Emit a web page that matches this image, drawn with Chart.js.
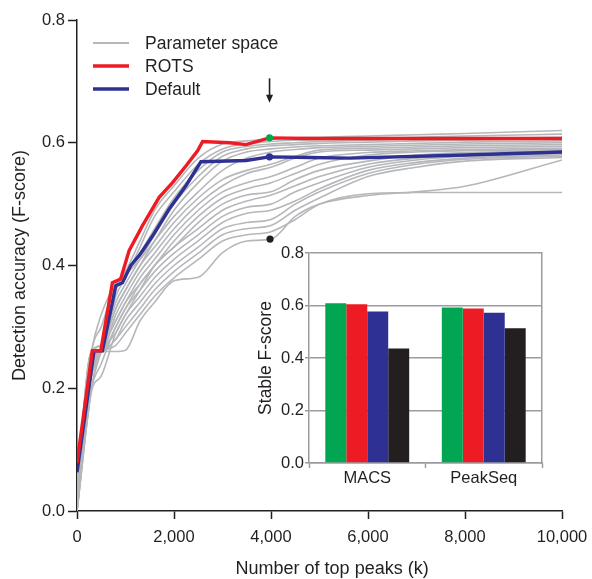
<!DOCTYPE html>
<html>
<head>
<meta charset="utf-8">
<script src="https://cdn.jsdelivr.net/npm/chart.js@4.4.1/dist/chart.umd.min.js"></script>
<style>
  html, body { margin: 0; padding: 0; background: #fff; }
  #wrap { position: relative; width: 592px; height: 579px; }
  #main { position: absolute; left: 0; top: 0; }
  #inset { position: absolute; left: 250px; top: 240px; }
</style>
</head>
<body>
<div id="wrap">
  <canvas id="main" width="592" height="579"></canvas>
  <canvas id="inset" width="300" height="250"></canvas>
</div>
<script>
// ---- data ----
const gridX = [0, 300, 500, 800, 1000, 1300, 1600, 2000, 2500, 3000, 3500, 4000, 4500, 5000, 6000, 7000, 8000, 10000];

// each row is one parameter combination, sampled at gridX
const parameterSpace = [
  [0.05, 0.26, 0.27, 0.36, 0.39, 0.44, 0.49, 0.53, 0.575, 0.598, 0.603, 0.606, 0.608, 0.609, 0.611, 0.613, 0.615, 0.620],
  [0.04, 0.25, 0.26, 0.35, 0.38, 0.43, 0.48, 0.52, 0.565, 0.590, 0.598, 0.602, 0.604, 0.605, 0.607, 0.609, 0.611, 0.614],
  [0.03, 0.26, 0.30, 0.37, 0.39, 0.42, 0.46, 0.51, 0.555, 0.585, 0.594, 0.598, 0.600, 0.602, 0.604, 0.606, 0.607, 0.609],
  [0.02, 0.22, 0.26, 0.34, 0.37, 0.41, 0.45, 0.50, 0.545, 0.578, 0.590, 0.595, 0.597, 0.599, 0.601, 0.603, 0.604, 0.606],
  [0.00, 0.20, 0.26, 0.33, 0.36, 0.40, 0.44, 0.49, 0.535, 0.570, 0.585, 0.590, 0.593, 0.595, 0.597, 0.599, 0.601, 0.603],
  [0.06, 0.26, 0.32, 0.37, 0.385, 0.41, 0.44, 0.48, 0.52, 0.555, 0.575, 0.585, 0.589, 0.592, 0.594, 0.596, 0.598, 0.600],
  [0.01, 0.24, 0.26, 0.33, 0.36, 0.40, 0.43, 0.47, 0.51, 0.54, 0.555, 0.565, 0.578, 0.588, 0.591, 0.593, 0.595, 0.597],
  [0.04, 0.26, 0.26, 0.32, 0.35, 0.39, 0.42, 0.46, 0.50, 0.53, 0.55, 0.56, 0.575, 0.585, 0.588, 0.590, 0.592, 0.594],
  [0.03, 0.23, 0.26, 0.31, 0.34, 0.38, 0.41, 0.45, 0.49, 0.52, 0.535, 0.545, 0.56, 0.575, 0.584, 0.587, 0.589, 0.591],
  [0.02, 0.20, 0.24, 0.30, 0.33, 0.37, 0.40, 0.44, 0.48, 0.51, 0.525, 0.535, 0.55, 0.565, 0.58, 0.585, 0.587, 0.589],
  [0.00, 0.195, 0.22, 0.29, 0.32, 0.36, 0.40, 0.43, 0.47, 0.50, 0.515, 0.52, 0.54, 0.555, 0.57, 0.58, 0.584, 0.587],
  [0.05, 0.26, 0.27, 0.31, 0.34, 0.37, 0.40, 0.43, 0.46, 0.49, 0.505, 0.515, 0.53, 0.545, 0.565, 0.575, 0.58, 0.585],
  [0.01, 0.26, 0.26, 0.30, 0.33, 0.36, 0.39, 0.42, 0.45, 0.48, 0.495, 0.50, 0.52, 0.535, 0.56, 0.572, 0.578, 0.582],
  [0.00, 0.22, 0.26, 0.29, 0.32, 0.35, 0.38, 0.41, 0.44, 0.47, 0.485, 0.49, 0.505, 0.525, 0.555, 0.568, 0.575, 0.580],
  [0.02, 0.25, 0.26, 0.28, 0.31, 0.34, 0.37, 0.40, 0.43, 0.46, 0.47, 0.475, 0.50, 0.52, 0.55, 0.565, 0.573, 0.578],
  [0.03, 0.26, 0.26, 0.28, 0.30, 0.33, 0.36, 0.39, 0.42, 0.45, 0.46, 0.465, 0.49, 0.51, 0.545, 0.56, 0.57, 0.576],
  [0.01, 0.24, 0.26, 0.27, 0.29, 0.32, 0.35, 0.38, 0.41, 0.44, 0.45, 0.455, 0.475, 0.50, 0.517, 0.519, 0.519, 0.519],
  [0.00, 0.20, 0.26, 0.26, 0.262, 0.31, 0.34, 0.375, 0.381, 0.421, 0.44, 0.443, 0.48, 0.50, 0.514, 0.52, 0.529, 0.572],
];

const rotsX = [0, 316, 490, 730, 900, 1074, 1350, 1694, 1970, 2245, 2486, 2590, 3140, 3485, 3967, 4800, 10000];
const rotsY = [0.078, 0.261, 0.261, 0.372, 0.378, 0.424, 0.465, 0.511, 0.535, 0.562, 0.587, 0.602, 0.600, 0.597, 0.608, 0.607, 0.607];

const defaultX = [0, 351, 523, 800, 936, 1109, 1281, 1556, 1901, 2245, 2555, 3485, 3967, 4800, 5620, 8000, 10000];
const defaultY = [0.063, 0.261, 0.261, 0.367, 0.372, 0.400, 0.416, 0.448, 0.492, 0.530, 0.569, 0.571, 0.577, 0.576, 0.575, 0.580, 0.585];

// stable points at k = 4,000 (best / default / worst)
const markerX = [3970, 3970, 3980];
const markerY = [0.608, 0.577, 0.443];
const markerColors = ["#00a651", "#2e3192", "#231f20"];
const arrowX = 3970;
const arrowFrom = 0.705;
const arrowTo = 0.665;

const xTicks = [0, 2000, 4000, 6000, 8000, 10000];
const yTicks = [0, 0.2, 0.4, 0.6, 0.8];
const xTitle = "Number of top peaks (k)";

// inset
const insetLabels = ["MACS", "PeakSeq"];
const bestScores = [0.609, 0.592];
const rotsScores = [0.605, 0.589];
const defaultScores = [0.577, 0.572];
const worstScores = [0.436, 0.513];

// ---- styling ----
const FONT = "'Liberation Sans', Arial, Helvetica, sans-serif";
const INK = "#231f20";
const GREY = "#b5b7ba";
const RED = "#ed1c24";
const BLUE = "#2e3192";
const GREEN = "#00a651";
const FRAME = "#9a9c9f";

const pts = (xs, ys) => xs.map((x, i) => ({ x, y: ys[i] }));

const datasets = [];
markerX.forEach((x, i) => {
  datasets.push({
    type: "scatter", data: [{ x, y: markerY[i] }], order: 0,
    pointRadius: 3.6, pointBackgroundColor: markerColors[i], pointBorderWidth: 0,
  });
});
datasets.push({ label: "ROTS", data: pts(rotsX, rotsY), borderColor: RED, borderWidth: 3.4, order: 1, pointRadius: 0, tension: 0 });
datasets.push({ label: "Default", data: pts(defaultX, defaultY), borderColor: BLUE, borderWidth: 3.4, order: 2, pointRadius: 0, tension: 0 });
parameterSpace.forEach(row => {
  datasets.push({
    label: "Parameter space", data: pts(gridX, row), borderColor: GREY, borderWidth: 1.6,
    order: 3, pointRadius: 0, cubicInterpolationMode: "monotone",
  });
});

const legendItems = [
  { text: "Parameter space", color: GREY, width: 2 },
  { text: "ROTS", color: RED, width: 3.5 },
  { text: "Default", color: BLUE, width: 3.5 },
];

const legendPlugin = {
  id: "cornerLegend",
  afterDraw(chart) {
    const ctx = chart.ctx;
    ctx.save();
    ctx.font = "17.5px " + FONT;
    ctx.fillStyle = INK;
    ctx.textBaseline = "middle";
    legendItems.forEach((it, i) => {
      const y = 43 + i * 23;
      ctx.strokeStyle = it.color;
      ctx.lineWidth = it.width;
      ctx.beginPath();
      ctx.moveTo(93, y);
      ctx.lineTo(129, y);
      ctx.stroke();
      ctx.fillText(it.text, 145, y + 1);
    });
    ctx.restore();
  },
};

// arrow over k = 4,000, plus the x title which sits a little right of centre in the original
const annotatePlugin = {
  id: "annotate",
  afterDraw(chart) {
    const { x, y } = chart.scales;
    const px = x.getPixelForValue(arrowX);
    const y0 = y.getPixelForValue(arrowFrom);
    const y1 = y.getPixelForValue(arrowTo);
    const ctx = chart.ctx;
    ctx.save();
    ctx.strokeStyle = INK;
    ctx.fillStyle = INK;
    ctx.lineWidth = 1.6;
    ctx.beginPath();
    ctx.moveTo(px, y0);
    ctx.lineTo(px, y1 - 6);
    ctx.stroke();
    ctx.beginPath();
    ctx.moveTo(px - 3.5, y1 - 8);
    ctx.lineTo(px + 3.5, y1 - 8);
    ctx.lineTo(px, y1);
    ctx.closePath();
    ctx.fill();

    ctx.font = "18px " + FONT;
    ctx.textAlign = "center";
    ctx.textBaseline = "middle";
    ctx.fillText(xTitle, x.getPixelForValue(5260), 569);
    ctx.restore();
  },
};

new Chart(document.getElementById("main"), {
  type: "line",
  data: { datasets },
  plugins: [legendPlugin, annotatePlugin],
  options: {
    responsive: false,
    animation: false,
    devicePixelRatio: 1,
    layout: { padding: { top: 20, right: 30, left: 0, bottom: 0 } },
    plugins: { legend: { display: false }, tooltip: { enabled: false } },
    scales: {
      x: {
        type: "linear", min: 0, max: 10000,
        afterBuildTicks: s => { s.ticks = xTicks.map(v => ({ value: v })); },
        ticks: { callback: v => v.toLocaleString("en-US"), font: { family: FONT, size: 16.5 }, color: INK, padding: 9, maxRotation: 0 },
        grid: { drawOnChartArea: false, color: INK, tickLength: 8, tickWidth: 1.5 },
        border: { color: INK, width: 1.5 },
        afterFit: s => { s.height = 68; s.paddingRight = 0; s.paddingLeft = 0; },
      },
      y: {
        min: 0, max: 0.8,
        afterBuildTicks: s => { s.ticks = yTicks.map(v => ({ value: v })); },
        ticks: { callback: v => v.toFixed(1), font: { family: FONT, size: 16.5 }, color: INK, padding: 3 },
        grid: { drawOnChartArea: false, color: INK, tickLength: 9, tickWidth: 1.5 },
        border: { color: INK, width: 1.5 },
        title: { display: true, text: "Detection accuracy (F-score)", font: { family: FONT, size: 18 }, color: INK, padding: { top: 9, bottom: 0 } },
        afterFit: s => { s.width = 77; },
      },
    },
  },
});

new Chart(document.getElementById("inset"), {
  type: "bar",
  data: {
    labels: insetLabels,
    datasets: [
      { data: bestScores, backgroundColor: GREEN },
      { data: rotsScores, backgroundColor: RED },
      { data: defaultScores, backgroundColor: BLUE },
      { data: worstScores, backgroundColor: INK },
    ],
  },
  options: {
    responsive: false,
    animation: false,
    devicePixelRatio: 1,
    layout: { padding: { top: 13, right: 8 } },
    datasets: { bar: { barPercentage: 1, categoryPercentage: 0.72, borderWidth: 0 } },
    plugins: { legend: { display: false }, tooltip: { enabled: false } },
    scales: {
      x: {
        ticks: { font: { family: FONT, size: 16.5 }, color: INK, padding: 1 },
        grid: { offset: true, drawOnChartArea: false, color: FRAME, tickLength: 5, tickWidth: 1.5 },
        border: { color: FRAME, width: 1.5 },
        afterFit: s => { s.height = 27; },
      },
      y: {
        min: 0, max: 0.8,
        afterBuildTicks: s => { s.ticks = yTicks.map(v => ({ value: v })); },
        ticks: { callback: v => v.toFixed(1), font: { family: FONT, size: 16.5 }, color: INK, padding: 1 },
        grid: { color: FRAME, lineWidth: 1.5, tickLength: 4, tickWidth: 1.5 },
        border: { color: FRAME, width: 1.5 },
        title: { display: true, text: "Stable F-score", font: { family: FONT, size: 17.5 }, color: INK, padding: { top: 6, bottom: 0 } },
        afterFit: s => { s.width = 59; },
      },
      y2: {
        position: "right", min: 0, max: 0.8,
        ticks: { display: false },
        grid: { display: false },
        border: { display: true, color: FRAME, width: 1.5 },
        afterFit: s => { s.width = 0; },
      },
    },
  },
});
</script>
</body>
</html>
